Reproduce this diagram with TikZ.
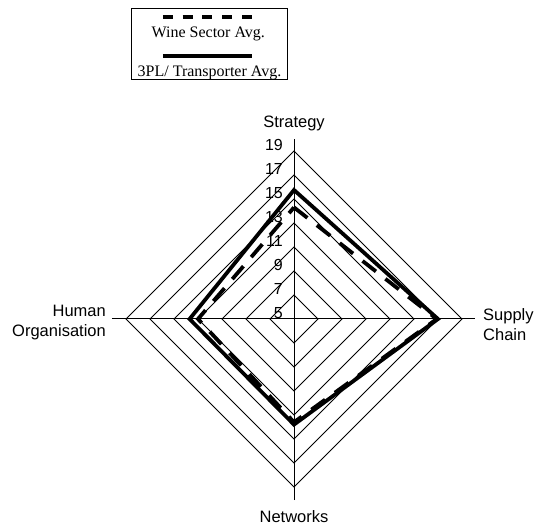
\documentclass[tikz,border=0pt]{standalone}
\usepackage{fontspec}
\setmainfont{Liberation Serif}
\setsansfont{Liberation Sans}
\usetikzlibrary{positioning}

\tikzset{
    gridline/.style={line width=1pt},
    winesector/.style={line width=3.8pt, dash pattern=on 17pt off 12pt},
    legenddash/.style={line width=3.8pt, dash pattern=on 10pt off 9.75pt},
    transporter/.style={line width=3.8pt},
    axislabel/.style={font=\sffamily\fontsize{16.5}{20}\selectfont, inner sep=0pt},
    ticklabel/.style={font=\sffamily\fontsize{16}{18}\selectfont, anchor=base east, inner sep=0pt},
    legendtext/.style={font=\fontsize{16}{18}\selectfont, anchor=base, inner sep=0pt}
}

% radius of a value on the chart (5 sits in the centre)
\newcommand{\rad}[1]{{12*(#1-5)}}

\begin{document}
\begin{tikzpicture}[x=1pt,y=1pt]
        \useasboundingbox (-294,-208) rectangle (241,319);

        % Draw the grid diamonds
        \coordinate (centre) at (0,0);
        \foreach \v in {7,9,...,19} {
            \draw[gridline] (0,\rad{\v}) -- (\rad{\v},0) -- (0,-\rad{\v}) -- (-\rad{\v},0) -- cycle;
        }

        % Draw the axes
        \coordinate (top) at (0,180);
        \coordinate (bottom) at (0,-181);
        \coordinate (left) at (-182,0);
        \coordinate (right) at (181,0);
        \draw[gridline] (bottom) -- (top);
        \draw[gridline] (left) -- (right);

        % Tick labels
        \foreach \v in {5,7,...,19} {
            \node[ticklabel] (tick\v) at (-11,\rad{\v}) {\v};
        }

        % Axis labels
        \node[axislabel, above=8pt of top] (strategy) {Strategy};
        \node[axislabel, below=10pt of bottom] (networks) {Networks};
        \node[axislabel, anchor=west, align=left] (supply) at ([xshift=8pt,yshift=-6pt]right) {Supply\\Chain};
        \node[axislabel, anchor=east, align=right] (human) at ([xshift=-6pt,yshift=-4pt]left) {Human\\Organisation};

        % Wine sector average
        \draw[winesector] (0,\rad{14.3}) -- (\rad{16.9},0) -- (0,-\rad{13.6}) -- (-\rad{13.0},0) -- cycle;

        % 3PL / transporter average
        \draw[transporter, line join=miter] (0,\rad{15.75}) -- (\rad{17.0},0) -- (0,-\rad{13.8}) -- (-\rad{13.7},0) -- cycle;

        % Legend
        \draw[gridline] (-162,310) rectangle (-7,239);
        \coordinate (dashA) at (-131,302.3);
        \coordinate (dashB) at (-42,302.3);
        \draw[legenddash] (dashA) -- (dashB);
        \node[legendtext] (winetext) at (-85.7,281.7) {Wine Sector Avg.};
        \coordinate (lineA) at (-131,263);
        \coordinate (lineB) at (-42,263);
        \draw[transporter] (lineA) -- (lineB);
        \node[legendtext] (tpltext) at (-84.5,242.3) {3PL/ Transporter Avg.};
    \end{tikzpicture}
\end{document}
